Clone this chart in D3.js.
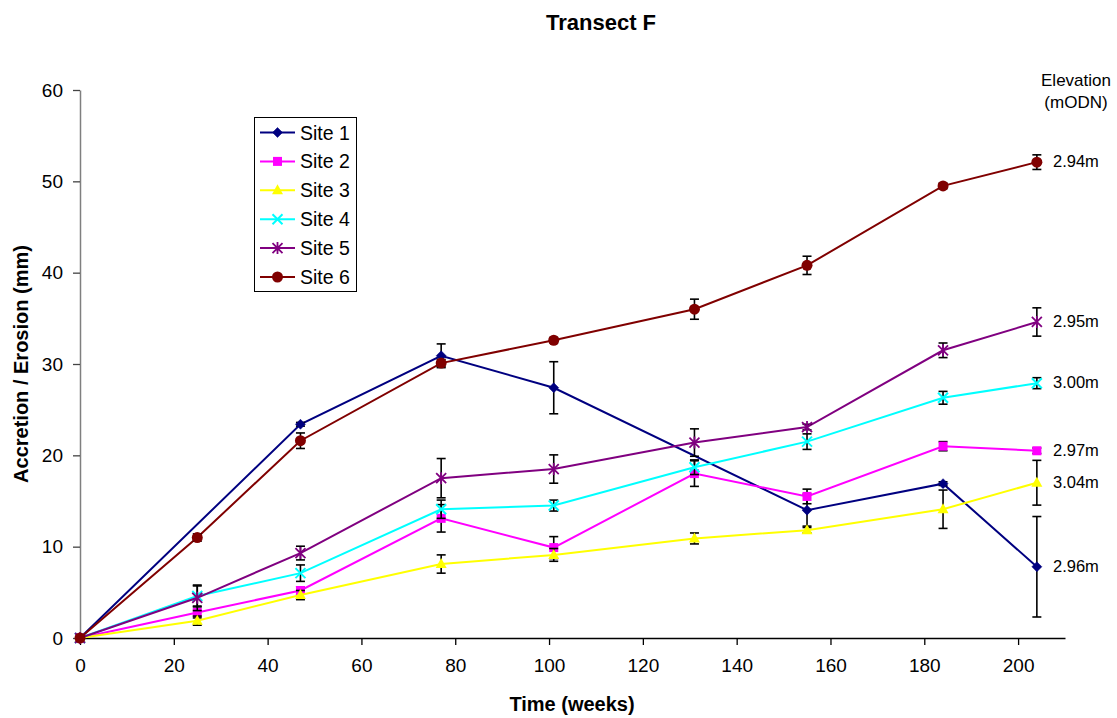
<!DOCTYPE html>
<html><head><meta charset="utf-8">
<script src="https://cdn.jsdelivr.net/npm/d3@7"></script>
<style>body{margin:0;background:#fff;} svg{display:block;font-family:"Liberation Sans",Arial,sans-serif;}</style>
</head><body>
<svg id="c" width="1117" height="718"></svg>
<script>
const weeks = [0, 25, 47, 77, 101, 131, 155, 184, 204];
const siteNames = ["Site 1","Site 2","Site 3","Site 4","Site 5","Site 6"];
const site1 = [0, null, 23.4, 30.9, 27.4, null, 14.0, 16.9, 7.8];
const site2 = [0, 2.8, 5.2, 13.1, 9.9, 18.0, 15.5, 21.0, 20.5];
const site3 = [0, 1.9, 4.7, 8.1, 9.1, 10.9, 11.8, 14.1, 17.0];
const site4 = [0, 4.6, 7.1, 14.1, 14.5, 18.7, 21.5, 26.3, 27.9];
const site5 = [0, 4.4, 9.3, 17.5, 18.5, 21.4, 23.1, 31.5, 34.6];
const site6 = [0, 11.0, 21.6, 30.1, 32.6, 36.0, 40.8, 49.5, 52.1];
const err1 = [0, 0, 0.2, 1.3, 2.85, 0, 1.75, 0.2, 5.5];
const err2 = [0, 0.6, 0.4, 1.5, 1.2, 1.4, 0.8, 0.5, 0.3];
const err3 = [0, 0.5, 0.5, 1.0, 0.7, 0.6, 0.3, 2.1, 2.45];
const err4 = [0, 1.1, 0.9, 1.0, 0.6, 0.8, 0.85, 0.7, 0.6];
const err5 = [0, 1.4, 0.75, 2.15, 1.55, 1.5, 0.3, 0.8, 1.55];
const err6 = [0, 0.4, 0.85, 0.4, 0.3, 1.1, 1.0, 0.3, 0.8];
const elevations = ["2.96m","2.97m","3.04m","3.00m","2.95m","2.94m"];
const xTicks = [0,20,40,60,80,100,120,140,160,180,200];
const yTicks = [0,10,20,30,40,50,60];

const colors = ["#000080","#FF00FF","#FFFF00","#00FFFF","#800080","#800000"];
const shapes = ["diamond","square","triangle","x","star","circle"];
const values = [site1,site2,site3,site4,site5,site6];
const errs = [err1,err2,err3,err4,err5,err6];

const svg = d3.select("#c");
const x = d3.scaleLinear().domain([0,210]).range([80,1065]);
const y = d3.scaleLinear().domain([0,60]).range([638,90]);

// title
svg.append("text").attr("x",601).attr("y",30).attr("text-anchor","middle")
  .attr("font-size",22).attr("font-weight","bold").text("Transect F");

// axes
const gx = svg.append("g").attr("transform","translate(0,638)")
  .call(d3.axisBottom(x).tickValues(xTicks).tickSize(7).tickSizeOuter(0).tickPadding(14));
gx.select(".domain").attr("stroke","#000").attr("stroke-width",1.3);
gx.selectAll(".tick line").attr("stroke","#000").attr("stroke-width",1.3);
gx.selectAll(".tick text").attr("font-size",19).attr("fill","#000").attr("font-family","Liberation Sans, Arial, sans-serif");

const gy = svg.append("g").attr("transform","translate(80,0)")
  .call(d3.axisLeft(y).tickValues(yTicks).tickSize(7).tickSizeOuter(0).tickPadding(10));
gy.select(".domain").attr("stroke","#7f7f7f").attr("stroke-width",1.5);
gy.selectAll(".tick line").attr("stroke","#444").attr("stroke-width",1.3);
gy.selectAll(".tick text").attr("font-size",19).attr("fill","#000").attr("font-family","Liberation Sans, Arial, sans-serif");

svg.append("text").attr("x",572).attr("y",711).attr("text-anchor","middle")
  .attr("font-size",20).attr("font-weight","bold").text("Time (weeks)");
svg.append("text").attr("transform","translate(28,364) rotate(-90)").attr("text-anchor","middle")
  .attr("font-size",20).attr("font-weight","bold").text("Accretion / Erosion (mm)");

// marker drawing
function marker(g, shape, color, cx, cy, s) {
  s = s || 1;
  if (shape==="diamond") {
    g.append("path").attr("d",`M${cx},${cy-5*s}L${cx+5*s},${cy}L${cx},${cy+5*s}L${cx-5*s},${cy}Z`).attr("fill",color).attr("stroke",color).attr("stroke-width",0.5);
  } else if (shape==="square") {
    g.append("rect").attr("x",cx-4.5*s).attr("y",cy-4.5*s).attr("width",9*s).attr("height",9*s).attr("fill",color);
  } else if (shape==="triangle") {
    g.append("path").attr("d",`M${cx},${cy-6*s}L${cx+5.5*s},${cy+4*s}L${cx-5.5*s},${cy+4*s}Z`).attr("fill",color);
  } else if (shape==="x") {
    g.append("path").attr("d",`M${cx-5*s},${cy-5*s}L${cx+5*s},${cy+5*s}M${cx+5*s},${cy-5*s}L${cx-5*s},${cy+5*s}`).attr("stroke",color).attr("stroke-width",2);
  } else if (shape==="star") {
    g.append("path").attr("d",`M${cx-5*s},${cy-5*s}L${cx+5*s},${cy+5*s}M${cx+5*s},${cy-5*s}L${cx-5*s},${cy+5*s}M${cx},${cy-6*s}L${cx},${cy+6*s}`).attr("stroke",color).attr("stroke-width",1.8);
  } else if (shape==="circle") {
    g.append("circle").attr("cx",cx).attr("cy",cy).attr("r",5.5*s).attr("fill",color);
  }
}

const line = d3.line().x(d=>x(d.w)).y(d=>y(d.v));

values.forEach((vals, i) => {
  const pts = weeks.map((w,j)=>({w, v: vals[j], e: errs[i][j]})).filter(d=>d.v!==null);
  const g = svg.append("g");
  g.append("path").datum(pts).attr("d",line).attr("fill","none").attr("stroke",colors[i]).attr("stroke-width",2);
  pts.forEach(d => {
    if (d.e > 0.15) {
      const xx = x(d.w), y1 = y(d.v + d.e), y2 = y(d.v - d.e);
      g.append("line").attr("x1",xx).attr("x2",xx).attr("y1",y1).attr("y2",y2).attr("stroke","#000").attr("stroke-width",1.6);
      g.append("line").attr("x1",xx-4.5).attr("x2",xx+4.5).attr("y1",y1).attr("y2",y1).attr("stroke","#000").attr("stroke-width",1.6);
      g.append("line").attr("x1",xx-4.5).attr("x2",xx+4.5).attr("y1",y2).attr("y2",y2).attr("stroke","#000").attr("stroke-width",1.6);
    }
  });
  pts.forEach(d => marker(g, shapes[i], colors[i], x(d.w), y(d.v)));
  // elevation label
  const last = pts[pts.length-1];
  svg.append("text").attr("x",1053).attr("y",y(last.v)-1).attr("dy","0.35em")
    .attr("font-size",16.5).text(elevations[i]);
});

svg.append("text").attr("x",1076).attr("y",86).attr("text-anchor","middle").attr("font-size",17).text("Elevation");
svg.append("text").attr("x",1076).attr("y",108).attr("text-anchor","middle").attr("font-size",17).text("(mODN)");

// legend
const lg = svg.append("g");
lg.append("rect").attr("x",254.5).attr("y",117.5).attr("width",102).attr("height",174)
  .attr("fill","#fff").attr("stroke","#000").attr("stroke-width",1);
siteNames.forEach((n,i)=>{
  const yy = 132.5 + i*28.9;
  lg.append("line").attr("x1",260).attr("x2",295).attr("y1",yy).attr("y2",yy).attr("stroke",colors[i]).attr("stroke-width",2);
  marker(lg, shapes[i], colors[i], 277.5, yy);
  lg.append("text").attr("x",300).attr("y",yy).attr("dy","0.36em").attr("font-size",19.5).text(n);
});
</script>
</body></html>
